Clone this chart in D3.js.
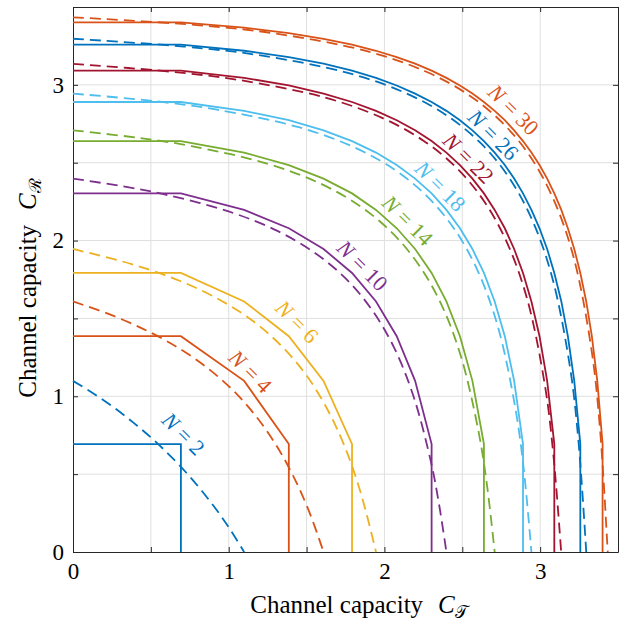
<!DOCTYPE html>
<html>
<head>
<meta charset="utf-8">
<script src="https://cdn.jsdelivr.net/npm/d3@7"></script>
<style>
  body { margin: 0; background: #fff; }
  svg { display: block; }
  text { font-family: "Liberation Serif", "DejaVu Serif", serif; fill: #000; }
</style>
</head>
<body>
<div id="chart"></div>
<script>
// N values of the curves
const nValues = [2, 4, 6, 10, 14, 18, 22, 26, 30];

// solid curves (x, y) vertices
const solid2 = [[0, 0.693], [0.693, 0.693], [0.693, 0]];
const solid4 = [[0, 1.386], [0.693, 1.386], [1.099, 1.099], [1.386, 0.693], [1.386, 0]];
const solid6 = [[0, 1.792], [0.693, 1.792], [1.099, 1.609], [1.386, 1.386], [1.609, 1.099], [1.792, 0.693], [1.792, 0]];
const solid10 = [[0, 2.303], [0.693, 2.303], [1.099, 2.197], [1.386, 2.079], [1.609, 1.946], [1.792, 1.792],
  [1.946, 1.609], [2.079, 1.386], [2.197, 1.099], [2.303, 0.693], [2.303, 0]];
const solid14 = [[0, 2.639], [0.693, 2.639], [1.099, 2.565], [1.386, 2.485], [1.609, 2.398], [1.792, 2.303],
  [1.946, 2.197], [2.079, 2.079], [2.197, 1.946], [2.303, 1.792], [2.398, 1.609], [2.485, 1.386],
  [2.565, 1.099], [2.639, 0.693], [2.639, 0]];
const solid18 = [[0, 2.890], [0.693, 2.890], [1.099, 2.833], [1.386, 2.773], [1.609, 2.708], [1.792, 2.639],
  [1.946, 2.565], [2.079, 2.485], [2.197, 2.398], [2.303, 2.303], [2.398, 2.197], [2.485, 2.079],
  [2.565, 1.946], [2.639, 1.792], [2.708, 1.609], [2.773, 1.386], [2.833, 1.099], [2.890, 0.693], [2.890, 0]];
const solid22 = [[0, 3.091], [0.693, 3.091], [1.099, 3.045], [1.386, 2.996], [1.609, 2.944], [1.792, 2.890],
  [1.946, 2.833], [2.079, 2.773], [2.197, 2.708], [2.303, 2.639], [2.398, 2.565], [2.485, 2.485],
  [2.565, 2.398], [2.639, 2.303], [2.708, 2.197], [2.773, 2.079], [2.833, 1.946], [2.890, 1.792],
  [2.944, 1.609], [2.996, 1.386], [3.045, 1.099], [3.091, 0.693], [3.091, 0]];
const solid26 = [[0, 3.258], [0.693, 3.258], [1.099, 3.219], [1.386, 3.178], [1.609, 3.136], [1.792, 3.091],
  [1.946, 3.045], [2.079, 2.996], [2.197, 2.944], [2.303, 2.890], [2.398, 2.833], [2.485, 2.773],
  [2.565, 2.708], [2.639, 2.639], [2.708, 2.565], [2.773, 2.485], [2.833, 2.398], [2.890, 2.303],
  [2.944, 2.197], [2.996, 2.079], [3.045, 1.946], [3.091, 1.792], [3.136, 1.609], [3.178, 1.386],
  [3.219, 1.099], [3.258, 0.693], [3.258, 0]];
const solid30 = [[0, 3.401], [0.693, 3.401], [1.099, 3.367], [1.386, 3.332], [1.609, 3.296], [1.792, 3.258],
  [1.946, 3.219], [2.079, 3.178], [2.197, 3.136], [2.303, 3.091], [2.398, 3.045], [2.485, 2.996],
  [2.565, 2.944], [2.639, 2.890], [2.708, 2.833], [2.773, 2.773], [2.833, 2.708], [2.890, 2.639],
  [2.944, 2.565], [2.996, 2.485], [3.045, 2.398], [3.091, 2.303], [3.136, 2.197], [3.178, 2.079],
  [3.219, 1.946], [3.258, 1.792], [3.296, 1.609], [3.332, 1.386], [3.367, 1.099], [3.401, 0.693], [3.401, 0]];

// dashed curves (x, y) points
const dashed2 = [[0, 1.099], [0.136, 1.015], [0.266, 0.925], [0.390, 0.829], [0.509, 0.728], [0.621, 0.621],
  [0.728, 0.509], [0.829, 0.390], [0.925, 0.266], [1.015, 0.136], [1.099, 0]];
const dashed4 = [[0, 1.609], [0.261, 1.516], [0.491, 1.413], [0.694, 1.300], [0.873, 1.174], [1.033, 1.033],
  [1.174, 0.873], [1.300, 0.694], [1.413, 0.491], [1.516, 0.261], [1.609, 0]];
const dashed6 = [[0, 1.946], [0.376, 1.849], [0.684, 1.742], [0.938, 1.622], [1.151, 1.487], [1.331, 1.331],
  [1.487, 1.151], [1.622, 0.938], [1.742, 0.684], [1.849, 0.376], [1.946, 0]];
const dashed10 = [[0, 2.398], [0.317, 2.349], [0.582, 2.298], [0.999, 2.187], [1.313, 2.062], [1.556, 1.919],
  [1.754, 1.754], [1.919, 1.556], [2.062, 1.313], [2.187, 0.999], [2.298, 0.582], [2.349, 0.317], [2.398, 0]];
const dashed14 = [[0, 2.708], [0.427, 2.659], [0.760, 2.607], [1.247, 2.494], [1.589, 2.366], [1.845, 2.220],
  [2.050, 2.050], [2.220, 1.845], [2.366, 1.589], [2.494, 1.247], [2.607, 0.760], [2.659, 0.427], [2.708, 0]];
const dashed18 = [[0, 2.944], [0.529, 2.895], [0.917, 2.842], [1.450, 2.728], [1.806, 2.599], [2.070, 2.452],
  [2.279, 2.279], [2.452, 2.070], [2.599, 1.806], [2.728, 1.450], [2.842, 0.917], [2.895, 0.529], [2.944, 0]];
const dashed22 = [[0, 3.135], [0.624, 3.085], [1.055, 3.033], [1.620, 2.918], [1.985, 2.788], [2.253, 2.640],
  [2.465, 2.465], [2.640, 2.253], [2.788, 1.985], [2.918, 1.620], [3.033, 1.055], [3.085, 0.624], [3.135, 0]];
const dashed26 = [[0, 3.296], [0.713, 3.246], [1.179, 3.193], [1.765, 3.077], [2.137, 2.947], [2.408, 2.798],
  [2.622, 2.622], [2.798, 2.408], [2.947, 2.137], [3.077, 1.765], [3.193, 1.179], [3.246, 0.713], [3.296, 0]];
const dashed30 = [[0, 3.434], [0.796, 3.384], [1.291, 3.331], [1.893, 3.215], [2.269, 3.084], [2.543, 2.934],
  [2.757, 2.757], [2.934, 2.543], [3.084, 2.269], [3.215, 1.893], [3.331, 1.291], [3.384, 0.796], [3.434, 0]];

// label anchors (data coords) for "N = .."
const labelPos = [[0.71, 0.76], [1.14, 1.16], [1.44, 1.48], [1.86, 1.84], [2.15, 2.13],
  [2.36, 2.35], [2.54, 2.53], [2.70, 2.68], [2.83, 2.84]];

const tickValues = [0, 0.5, 1, 1.5, 2, 2.5, 3, 3.5];

const solids = [solid2, solid4, solid6, solid10, solid14, solid18, solid22, solid26, solid30];
const dashes = [dashed2, dashed4, dashed6, dashed10, dashed14, dashed18, dashed22, dashed26, dashed30];
const colors = ["#0072BD", "#D95319", "#EDB120", "#7E2F8E", "#77AC30", "#4DBEEE", "#A2142F", "#0072BD", "#D95319"];

const width = 633;
const height = 623;
const margin = { top: 7, right: 15, bottom: 71, left: 73 };

const svg = d3.select("#chart").append("svg")
    .attr("width", width)
    .attr("height", height);

const x = d3.scaleLinear().domain([0, 3.5]).range([margin.left, width - margin.right]);
const y = d3.scaleLinear().domain([0, 3.5]).range([height - margin.bottom, margin.top]);

// grid
svg.append("g").selectAll("line")
    .data(tickValues.slice(1, -1))
    .enter().append("line")
    .attr("x1", d => x(d)).attr("x2", d => x(d))
    .attr("y1", y(0)).attr("y2", y(3.5))
    .attr("stroke", "#dfdfdf").attr("stroke-width", 1);
svg.append("g").selectAll("line")
    .data(tickValues.slice(1, -1))
    .enter().append("line")
    .attr("y1", d => y(d)).attr("y2", d => y(d))
    .attr("x1", x(0)).attr("x2", x(3.5))
    .attr("stroke", "#dfdfdf").attr("stroke-width", 1);

// axes (ticks inward, all four sides)
const fmt = d => (Number.isInteger(d) && d < 3.5) ? d : "";
const axisColor = "#262626";
function styleAxis(g, hideText) {
    g.select(".domain").attr("stroke", axisColor);
    g.selectAll(".tick line").attr("stroke", axisColor);
    g.selectAll(".tick text")
        .style("font-family", '"Liberation Serif", serif')
        .style("font-size", "23px")
        .attr("fill", "#000");
    if (hideText) g.selectAll(".tick text").remove();
}
svg.append("g")
    .attr("transform", `translate(0,${y(0)})`)
    .call(d3.axisBottom(x).tickValues(tickValues).tickFormat(fmt).tickSizeInner(-5).tickSizeOuter(0).tickPadding(11))
    .call(g => styleAxis(g, false));
svg.append("g")
    .attr("transform", `translate(0,${y(3.5)})`)
    .call(d3.axisTop(x).tickValues(tickValues).tickSizeInner(-5).tickSizeOuter(0))
    .call(g => styleAxis(g, true));
svg.append("g")
    .attr("transform", `translate(${x(0)},0)`)
    .call(d3.axisLeft(y).tickValues(tickValues).tickFormat(fmt).tickSizeInner(-5).tickSizeOuter(0).tickPadding(9))
    .call(g => styleAxis(g, false));
svg.append("g")
    .attr("transform", `translate(${x(3.5)},0)`)
    .call(d3.axisRight(y).tickValues(tickValues).tickSizeInner(-5).tickSizeOuter(0))
    .call(g => styleAxis(g, true));

// curves
const solidLine = d3.line().x(d => x(d[0])).y(d => y(d[1]));
const dashLine = d3.line().x(d => x(d[0])).y(d => y(d[1])).curve(d3.curveCatmullRom.alpha(0.5));

nValues.forEach((n, i) => {
    svg.append("path")
        .attr("d", dashLine(dashes[i]))
        .attr("fill", "none")
        .attr("stroke", colors[i])
        .attr("stroke-width", 1.8)
        .attr("stroke-dasharray", "11,6");
    svg.append("path")
        .attr("d", solidLine(solids[i]))
        .attr("fill", "none")
        .attr("stroke", colors[i])
        .attr("stroke-width", 1.8);
});

// labels
nValues.forEach((n, i) => {
    const t = svg.append("text")
        .attr("transform", `translate(${x(labelPos[i][0])},${y(labelPos[i][1])}) rotate(45)`)
        .attr("text-anchor", "middle")
        .attr("dy", "0.35em")
        .style("font-size", "22px")
        .style("fill", colors[i]);
    t.append("tspan").style("font-style", "italic").style("fill", colors[i]).text("N");
    t.append("tspan").attr("dx", 6).style("fill", colors[i]).text("=");
    t.append("tspan").attr("dx", 6).style("fill", colors[i]).text(n);
});

// axis titles
const xt = svg.append("text")
    .attr("x", 359).attr("y", 613)
    .attr("text-anchor", "middle")
    .style("font-size", "25px");
xt.append("tspan").text("Channel capacity");
xt.append("tspan").attr("dx", 15).style("font-style", "italic").text("C");
xt.append("tspan").attr("dy", 5).style("font-size", "17px").text("\u{1D4AF}");

const yt = svg.append("text")
    .attr("transform", `translate(36,288) rotate(-90)`)
    .attr("text-anchor", "middle")
    .style("font-size", "25px");
yt.append("tspan").text("Channel capacity");
yt.append("tspan").attr("dx", 15).style("font-style", "italic").text("C");
yt.append("tspan").attr("dy", 5).style("font-size", "17px").text("\u211B");
</script>
</body>
</html>
